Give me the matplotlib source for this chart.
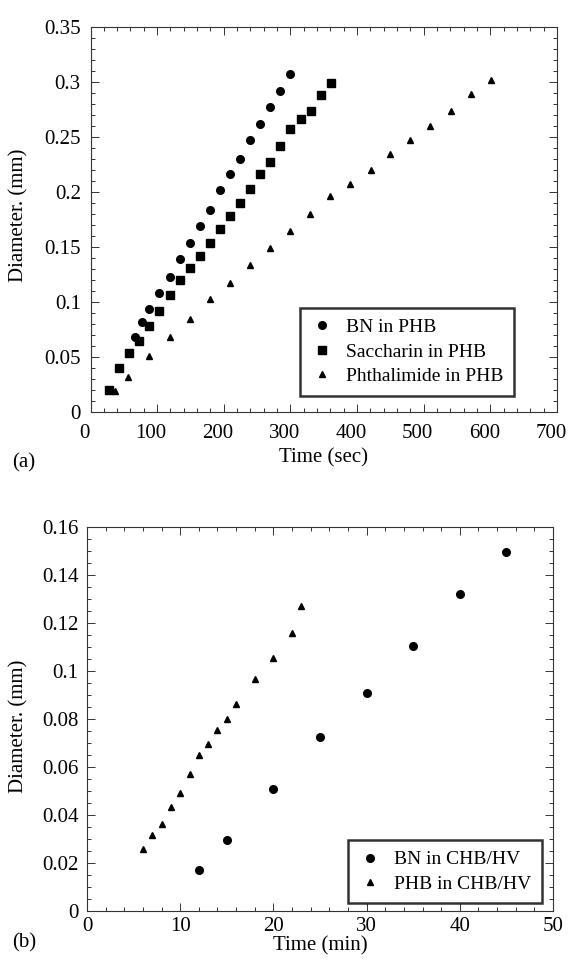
import matplotlib
matplotlib.use("Agg")
import matplotlib.pyplot as plt
import matplotlib.transforms as mtransforms
from matplotlib.ticker import MultipleLocator

plt.rcParams['font.family'] = ['Liberation Serif', 'DejaVu Serif']

# Panel (a): Time (sec) vs Diameter (mm)
bn_phb_t = [67, 78, 88, 103, 119, 135, 150, 165, 180, 195, 210, 225, 240, 255, 270, 285, 300]
bn_phb_d = [0.0685, 0.0815, 0.0933, 0.108, 0.123, 0.139, 0.154, 0.169, 0.184, 0.202,
            0.216, 0.230, 0.247, 0.262, 0.277, 0.292, 0.307]
sac_phb_t = [28, 43, 58, 73, 88, 103, 120, 135, 150, 165, 180, 195, 210, 225, 240, 255,
             270, 285, 300, 316, 331, 346, 361]
sac_phb_d = [0.020, 0.040, 0.054, 0.065, 0.0785, 0.0915, 0.106, 0.120, 0.131, 0.142, 0.154,
             0.166, 0.178, 0.190, 0.203, 0.216, 0.227, 0.2415, 0.257, 0.266, 0.274, 0.288, 0.299]
pht_phb_t = [37, 57, 88, 119, 149, 179, 209, 239, 269, 299, 329, 360, 390, 421, 450, 480,
             510, 541, 571, 601]
pht_phb_d = [0.0194, 0.032, 0.0509, 0.0685, 0.0842, 0.1027, 0.117, 0.134, 0.149, 0.1645,
             0.180, 0.196, 0.2075, 0.2197, 0.235, 0.247, 0.260, 0.274, 0.289, 0.302]

# Panel (b): Time (min) vs Diameter (mm)
bn_chb_t = [12, 15, 20, 25, 30, 35, 40, 45]
bn_chb_d = [0.0171, 0.0296, 0.0508, 0.0725, 0.0907, 0.1105, 0.1322, 0.1495]
phb_chb_t = [6, 7, 8, 9, 10, 11, 12, 13, 14, 15, 16, 18, 20, 22, 23]
phb_chb_d = [0.0257, 0.0317, 0.0361, 0.0435, 0.0492, 0.0572, 0.0651, 0.0697, 0.0754, 0.080,
             0.0862, 0.0965, 0.1053, 0.1157, 0.1271]

x1_ticks = [0, 100, 200, 300, 400, 500, 600, 700]
y1_labels = ['0', '0.05', '0.1', '0.15', '0.2', '0.25', '0.3', '0.35']
x2_ticks = [0, 10, 20, 30, 40, 50]
y2_labels = ['0', '0.02', '0.04', '0.06', '0.08', '0.1', '0.12', '0.14', '0.16']

W, H = 570, 968
fig = plt.figure(figsize=(W / 100, H / 100), dpi=100)

def rect(l, r, t, b):
    return [l / W, 1 - b / H, (r - l) / W, (b - t) / H]

ax1 = fig.add_axes(rect(90.5, 557, 27, 412))
ax2 = fig.add_axes(rect(87, 553, 527, 911))

fs = 15
lfs = 14

def style(ax, xpad, ypad):
    for s in ax.spines.values():
        s.set_linewidth(0.8)
        s.set_color('#333333')
    ax.tick_params(which='both', direction='in', top=True, right=True, labelsize=fs,
                   width=0.7, color='#333333')
    ax.tick_params(which='major', length=6)
    ax.tick_params(axis='x', which='major', pad=xpad)
    ax.tick_params(axis='y', which='major', pad=ypad)
    ax.tick_params(which='minor', length=3)

ms = 5.5
ax1.plot(bn_phb_t, bn_phb_d, 'o', color='black', ms=ms, label='BN in PHB')
ax1.plot(sac_phb_t, sac_phb_d, 's', color='black', ms=ms, label='Saccharin in PHB')
ax1.plot(pht_phb_t, pht_phb_d, '^', color='black', ms=ms - 0.5, label='Phthalimide in PHB')
ax1.set_xlim(0, 700)
ax1.set_ylim(0, 0.35)
ax1.set_xticks(x1_ticks)
ax1.xaxis.set_minor_locator(MultipleLocator(20))
ax1.set_yticks([float(v) for v in y1_labels])
ax1.set_yticklabels(y1_labels)
ax1.yaxis.set_minor_locator(MultipleLocator(0.01))
style(ax1, 9, 7)
# the scanned original shows x tick labels slightly left of their ticks
shift = mtransforms.ScaledTranslation(-6 / 100, 0, fig.dpi_scale_trans)
for lbl in ax1.get_xticklabels():
    lbl.set_transform(lbl.get_transform() + shift)
ax1.set_xlabel('Time (sec)', fontsize=fs)
ax1.xaxis.set_label_coords(0.5, -(448 - 412) / 385)
ax1.set_ylabel('Diameter. (mm)', fontsize=fs)
ax1.yaxis.set_label_coords((28 - 90.5) / 466.5, 0.51)

leg1 = ax1.legend(loc='upper left', bbox_to_anchor=(300 / W, 1 - 308 / H),
                  bbox_transform=fig.transFigure, numpoints=1,
                  fontsize=lfs, frameon=True, fancybox=False, edgecolor='black',
                  handletextpad=0.6, borderpad=0.55, labelspacing=0.35, handlelength=1.2,
                  borderaxespad=0)
leg1.get_frame().set_linewidth(1.8)

ax2.plot(bn_chb_t, bn_chb_d, 'o', color='black', ms=ms, label='BN in CHB/HV')
ax2.plot(phb_chb_t, phb_chb_d, '^', color='black', ms=ms - 0.5, label='PHB in CHB/HV')
ax2.set_xlim(0, 50)
ax2.set_ylim(0, 0.16)
ax2.set_xticks(x2_ticks)
ax2.xaxis.set_minor_locator(MultipleLocator(2))
ax2.set_yticks([float(v) for v in y2_labels])
ax2.set_yticklabels(y2_labels)
ax2.yaxis.set_minor_locator(MultipleLocator(0.005))
style(ax2, 4, 6)
ax2.set_xlabel('Time (min)', fontsize=fs)
ax2.xaxis.set_label_coords(0.5, -(936 - 911) / 384)
ax2.set_ylabel('Diameter. (mm)', fontsize=fs)
ax2.yaxis.set_label_coords((28 - 87) / 466, 0.48)

leg2 = ax2.legend(loc='upper left', bbox_to_anchor=(348 / W, 1 - 840 / H),
                  bbox_transform=fig.transFigure, numpoints=1,
                  fontsize=lfs, frameon=True, fancybox=False, edgecolor='black',
                  handletextpad=0.6, borderpad=0.55, labelspacing=0.35, handlelength=1.2,
                  borderaxespad=0)
leg2.get_frame().set_linewidth(1.8)

fig.text(12 / W, 1 - 463 / H, '(a)', fontsize=fs, va='center', ha='left')
fig.text(12 / W, 1 - 943 / H, '(b)', fontsize=fs, va='center', ha='left')

fig.savefig('out.png', dpi=100)
